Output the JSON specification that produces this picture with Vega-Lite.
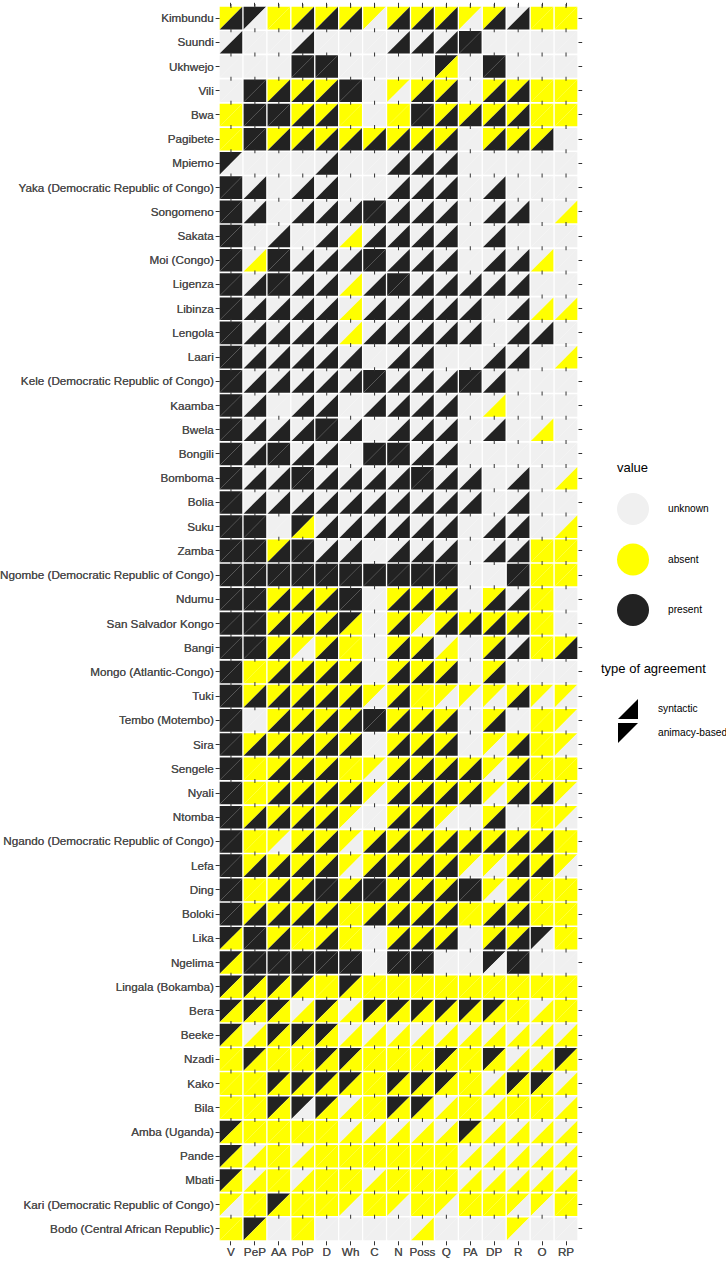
{
"$schema":"https://vega.github.io/schema/vega-lite/v6.json",
"width":359,"height":1235,
"autosize":{"type":"none"},
"padding":{"left":219,"top":6,"right":148,"bottom":20},
"background":"white",
"config":{"view":{"stroke":null},"font":"Liberation Sans",
"axis":{"labelFont":"Liberation Sans","labelFontSize":11.7,"labelColor":"#4d4d4d","tickColor":"#333333","tickSize":3.7,"labelPadding":2,"labelLimit":0,"domain":false,"grid":false,"title":null},
"legend":{"labelFont":"Liberation Sans","titleFont":"Liberation Sans","labelFontSize":10.2,"titleFontSize":13,"titleFontWeight":"normal","labelColor":"#000000","titleColor":"#000000","padding":0,"symbolOpacity":1,"labelLimit":0}},
"data":{"values":[
{"lang":"Kimbundu","feat":"V","syn":"present","ani":"absent"},
{"lang":"Kimbundu","feat":"PeP","syn":"unknown","ani":"present"},
{"lang":"Kimbundu","feat":"AA","syn":"absent","ani":"absent"},
{"lang":"Kimbundu","feat":"PoP","syn":"present","ani":"absent"},
{"lang":"Kimbundu","feat":"D","syn":"present","ani":"absent"},
{"lang":"Kimbundu","feat":"Wh","syn":"present","ani":"absent"},
{"lang":"Kimbundu","feat":"C","syn":"unknown","ani":"absent"},
{"lang":"Kimbundu","feat":"N","syn":"present","ani":"absent"},
{"lang":"Kimbundu","feat":"Poss","syn":"present","ani":"absent"},
{"lang":"Kimbundu","feat":"Q","syn":"present","ani":"absent"},
{"lang":"Kimbundu","feat":"PA","syn":"unknown","ani":"absent"},
{"lang":"Kimbundu","feat":"DP","syn":"present","ani":"absent"},
{"lang":"Kimbundu","feat":"R","syn":"present","ani":"unknown"},
{"lang":"Kimbundu","feat":"O","syn":"absent","ani":"absent"},
{"lang":"Kimbundu","feat":"RP","syn":"absent","ani":"absent"},
{"lang":"Suundi","feat":"V","syn":"present","ani":"unknown"},
{"lang":"Suundi","feat":"PeP","syn":"unknown","ani":"unknown"},
{"lang":"Suundi","feat":"AA","syn":"unknown","ani":"unknown"},
{"lang":"Suundi","feat":"PoP","syn":"present","ani":"unknown"},
{"lang":"Suundi","feat":"D","syn":"unknown","ani":"unknown"},
{"lang":"Suundi","feat":"Wh","syn":"unknown","ani":"unknown"},
{"lang":"Suundi","feat":"C","syn":"unknown","ani":"unknown"},
{"lang":"Suundi","feat":"N","syn":"present","ani":"unknown"},
{"lang":"Suundi","feat":"Poss","syn":"present","ani":"unknown"},
{"lang":"Suundi","feat":"Q","syn":"present","ani":"unknown"},
{"lang":"Suundi","feat":"PA","syn":"present","ani":"present"},
{"lang":"Suundi","feat":"DP","syn":"unknown","ani":"unknown"},
{"lang":"Suundi","feat":"R","syn":"unknown","ani":"unknown"},
{"lang":"Suundi","feat":"O","syn":"unknown","ani":"unknown"},
{"lang":"Suundi","feat":"RP","syn":"unknown","ani":"unknown"},
{"lang":"Ukhwejo","feat":"V","syn":"unknown","ani":"unknown"},
{"lang":"Ukhwejo","feat":"PeP","syn":"unknown","ani":"unknown"},
{"lang":"Ukhwejo","feat":"AA","syn":"unknown","ani":"unknown"},
{"lang":"Ukhwejo","feat":"PoP","syn":"present","ani":"present"},
{"lang":"Ukhwejo","feat":"D","syn":"present","ani":"present"},
{"lang":"Ukhwejo","feat":"Wh","syn":"unknown","ani":"unknown"},
{"lang":"Ukhwejo","feat":"C","syn":"unknown","ani":"unknown"},
{"lang":"Ukhwejo","feat":"N","syn":"unknown","ani":"unknown"},
{"lang":"Ukhwejo","feat":"Poss","syn":"unknown","ani":"unknown"},
{"lang":"Ukhwejo","feat":"Q","syn":"absent","ani":"present"},
{"lang":"Ukhwejo","feat":"PA","syn":"unknown","ani":"unknown"},
{"lang":"Ukhwejo","feat":"DP","syn":"present","ani":"present"},
{"lang":"Ukhwejo","feat":"R","syn":"unknown","ani":"unknown"},
{"lang":"Ukhwejo","feat":"O","syn":"unknown","ani":"unknown"},
{"lang":"Ukhwejo","feat":"RP","syn":"unknown","ani":"unknown"},
{"lang":"Vili","feat":"V","syn":"unknown","ani":"unknown"},
{"lang":"Vili","feat":"PeP","syn":"present","ani":"present"},
{"lang":"Vili","feat":"AA","syn":"present","ani":"absent"},
{"lang":"Vili","feat":"PoP","syn":"present","ani":"absent"},
{"lang":"Vili","feat":"D","syn":"present","ani":"absent"},
{"lang":"Vili","feat":"Wh","syn":"present","ani":"present"},
{"lang":"Vili","feat":"C","syn":"unknown","ani":"unknown"},
{"lang":"Vili","feat":"N","syn":"unknown","ani":"absent"},
{"lang":"Vili","feat":"Poss","syn":"present","ani":"absent"},
{"lang":"Vili","feat":"Q","syn":"present","ani":"absent"},
{"lang":"Vili","feat":"PA","syn":"unknown","ani":"unknown"},
{"lang":"Vili","feat":"DP","syn":"present","ani":"absent"},
{"lang":"Vili","feat":"R","syn":"present","ani":"absent"},
{"lang":"Vili","feat":"O","syn":"absent","ani":"absent"},
{"lang":"Vili","feat":"RP","syn":"absent","ani":"absent"},
{"lang":"Bwa","feat":"V","syn":"absent","ani":"absent"},
{"lang":"Bwa","feat":"PeP","syn":"present","ani":"present"},
{"lang":"Bwa","feat":"AA","syn":"present","ani":"present"},
{"lang":"Bwa","feat":"PoP","syn":"present","ani":"absent"},
{"lang":"Bwa","feat":"D","syn":"present","ani":"absent"},
{"lang":"Bwa","feat":"Wh","syn":"absent","ani":"absent"},
{"lang":"Bwa","feat":"C","syn":"unknown","ani":"unknown"},
{"lang":"Bwa","feat":"N","syn":"absent","ani":"absent"},
{"lang":"Bwa","feat":"Poss","syn":"present","ani":"present"},
{"lang":"Bwa","feat":"Q","syn":"present","ani":"absent"},
{"lang":"Bwa","feat":"PA","syn":"present","ani":"absent"},
{"lang":"Bwa","feat":"DP","syn":"present","ani":"absent"},
{"lang":"Bwa","feat":"R","syn":"present","ani":"absent"},
{"lang":"Bwa","feat":"O","syn":"absent","ani":"absent"},
{"lang":"Bwa","feat":"RP","syn":"absent","ani":"absent"},
{"lang":"Pagibete","feat":"V","syn":"absent","ani":"absent"},
{"lang":"Pagibete","feat":"PeP","syn":"present","ani":"present"},
{"lang":"Pagibete","feat":"AA","syn":"present","ani":"absent"},
{"lang":"Pagibete","feat":"PoP","syn":"present","ani":"absent"},
{"lang":"Pagibete","feat":"D","syn":"present","ani":"absent"},
{"lang":"Pagibete","feat":"Wh","syn":"present","ani":"absent"},
{"lang":"Pagibete","feat":"C","syn":"present","ani":"absent"},
{"lang":"Pagibete","feat":"N","syn":"present","ani":"absent"},
{"lang":"Pagibete","feat":"Poss","syn":"present","ani":"absent"},
{"lang":"Pagibete","feat":"Q","syn":"present","ani":"absent"},
{"lang":"Pagibete","feat":"PA","syn":"unknown","ani":"unknown"},
{"lang":"Pagibete","feat":"DP","syn":"present","ani":"absent"},
{"lang":"Pagibete","feat":"R","syn":"present","ani":"absent"},
{"lang":"Pagibete","feat":"O","syn":"present","ani":"absent"},
{"lang":"Pagibete","feat":"RP","syn":"unknown","ani":"unknown"},
{"lang":"Mpiemo","feat":"V","syn":"unknown","ani":"present"},
{"lang":"Mpiemo","feat":"PeP","syn":"unknown","ani":"unknown"},
{"lang":"Mpiemo","feat":"AA","syn":"unknown","ani":"unknown"},
{"lang":"Mpiemo","feat":"PoP","syn":"unknown","ani":"unknown"},
{"lang":"Mpiemo","feat":"D","syn":"present","ani":"unknown"},
{"lang":"Mpiemo","feat":"Wh","syn":"unknown","ani":"unknown"},
{"lang":"Mpiemo","feat":"C","syn":"unknown","ani":"unknown"},
{"lang":"Mpiemo","feat":"N","syn":"present","ani":"unknown"},
{"lang":"Mpiemo","feat":"Poss","syn":"present","ani":"unknown"},
{"lang":"Mpiemo","feat":"Q","syn":"present","ani":"unknown"},
{"lang":"Mpiemo","feat":"PA","syn":"unknown","ani":"unknown"},
{"lang":"Mpiemo","feat":"DP","syn":"unknown","ani":"unknown"},
{"lang":"Mpiemo","feat":"R","syn":"unknown","ani":"unknown"},
{"lang":"Mpiemo","feat":"O","syn":"unknown","ani":"unknown"},
{"lang":"Mpiemo","feat":"RP","syn":"unknown","ani":"unknown"},
{"lang":"Yaka (Democratic Republic of Congo)","feat":"V","syn":"present","ani":"present"},
{"lang":"Yaka (Democratic Republic of Congo)","feat":"PeP","syn":"present","ani":"unknown"},
{"lang":"Yaka (Democratic Republic of Congo)","feat":"AA","syn":"unknown","ani":"unknown"},
{"lang":"Yaka (Democratic Republic of Congo)","feat":"PoP","syn":"present","ani":"unknown"},
{"lang":"Yaka (Democratic Republic of Congo)","feat":"D","syn":"present","ani":"unknown"},
{"lang":"Yaka (Democratic Republic of Congo)","feat":"Wh","syn":"unknown","ani":"unknown"},
{"lang":"Yaka (Democratic Republic of Congo)","feat":"C","syn":"unknown","ani":"unknown"},
{"lang":"Yaka (Democratic Republic of Congo)","feat":"N","syn":"present","ani":"unknown"},
{"lang":"Yaka (Democratic Republic of Congo)","feat":"Poss","syn":"present","ani":"unknown"},
{"lang":"Yaka (Democratic Republic of Congo)","feat":"Q","syn":"present","ani":"unknown"},
{"lang":"Yaka (Democratic Republic of Congo)","feat":"PA","syn":"unknown","ani":"unknown"},
{"lang":"Yaka (Democratic Republic of Congo)","feat":"DP","syn":"present","ani":"unknown"},
{"lang":"Yaka (Democratic Republic of Congo)","feat":"R","syn":"unknown","ani":"unknown"},
{"lang":"Yaka (Democratic Republic of Congo)","feat":"O","syn":"unknown","ani":"unknown"},
{"lang":"Yaka (Democratic Republic of Congo)","feat":"RP","syn":"unknown","ani":"unknown"},
{"lang":"Songomeno","feat":"V","syn":"present","ani":"present"},
{"lang":"Songomeno","feat":"PeP","syn":"present","ani":"unknown"},
{"lang":"Songomeno","feat":"AA","syn":"unknown","ani":"unknown"},
{"lang":"Songomeno","feat":"PoP","syn":"present","ani":"unknown"},
{"lang":"Songomeno","feat":"D","syn":"present","ani":"unknown"},
{"lang":"Songomeno","feat":"Wh","syn":"present","ani":"unknown"},
{"lang":"Songomeno","feat":"C","syn":"present","ani":"present"},
{"lang":"Songomeno","feat":"N","syn":"present","ani":"unknown"},
{"lang":"Songomeno","feat":"Poss","syn":"present","ani":"unknown"},
{"lang":"Songomeno","feat":"Q","syn":"present","ani":"unknown"},
{"lang":"Songomeno","feat":"PA","syn":"unknown","ani":"unknown"},
{"lang":"Songomeno","feat":"DP","syn":"present","ani":"unknown"},
{"lang":"Songomeno","feat":"R","syn":"present","ani":"unknown"},
{"lang":"Songomeno","feat":"O","syn":"unknown","ani":"unknown"},
{"lang":"Songomeno","feat":"RP","syn":"absent","ani":"unknown"},
{"lang":"Sakata","feat":"V","syn":"present","ani":"present"},
{"lang":"Sakata","feat":"PeP","syn":"unknown","ani":"unknown"},
{"lang":"Sakata","feat":"AA","syn":"present","ani":"unknown"},
{"lang":"Sakata","feat":"PoP","syn":"unknown","ani":"unknown"},
{"lang":"Sakata","feat":"D","syn":"present","ani":"unknown"},
{"lang":"Sakata","feat":"Wh","syn":"absent","ani":"unknown"},
{"lang":"Sakata","feat":"C","syn":"present","ani":"unknown"},
{"lang":"Sakata","feat":"N","syn":"present","ani":"unknown"},
{"lang":"Sakata","feat":"Poss","syn":"present","ani":"unknown"},
{"lang":"Sakata","feat":"Q","syn":"present","ani":"unknown"},
{"lang":"Sakata","feat":"PA","syn":"unknown","ani":"unknown"},
{"lang":"Sakata","feat":"DP","syn":"present","ani":"unknown"},
{"lang":"Sakata","feat":"R","syn":"unknown","ani":"unknown"},
{"lang":"Sakata","feat":"O","syn":"unknown","ani":"unknown"},
{"lang":"Sakata","feat":"RP","syn":"unknown","ani":"unknown"},
{"lang":"Moi (Congo)","feat":"V","syn":"present","ani":"present"},
{"lang":"Moi (Congo)","feat":"PeP","syn":"absent","ani":"unknown"},
{"lang":"Moi (Congo)","feat":"AA","syn":"present","ani":"present"},
{"lang":"Moi (Congo)","feat":"PoP","syn":"present","ani":"unknown"},
{"lang":"Moi (Congo)","feat":"D","syn":"present","ani":"unknown"},
{"lang":"Moi (Congo)","feat":"Wh","syn":"present","ani":"unknown"},
{"lang":"Moi (Congo)","feat":"C","syn":"present","ani":"present"},
{"lang":"Moi (Congo)","feat":"N","syn":"present","ani":"unknown"},
{"lang":"Moi (Congo)","feat":"Poss","syn":"present","ani":"unknown"},
{"lang":"Moi (Congo)","feat":"Q","syn":"present","ani":"unknown"},
{"lang":"Moi (Congo)","feat":"PA","syn":"unknown","ani":"unknown"},
{"lang":"Moi (Congo)","feat":"DP","syn":"present","ani":"unknown"},
{"lang":"Moi (Congo)","feat":"R","syn":"present","ani":"unknown"},
{"lang":"Moi (Congo)","feat":"O","syn":"absent","ani":"unknown"},
{"lang":"Moi (Congo)","feat":"RP","syn":"unknown","ani":"unknown"},
{"lang":"Ligenza","feat":"V","syn":"present","ani":"present"},
{"lang":"Ligenza","feat":"PeP","syn":"present","ani":"unknown"},
{"lang":"Ligenza","feat":"AA","syn":"present","ani":"present"},
{"lang":"Ligenza","feat":"PoP","syn":"present","ani":"unknown"},
{"lang":"Ligenza","feat":"D","syn":"present","ani":"unknown"},
{"lang":"Ligenza","feat":"Wh","syn":"absent","ani":"unknown"},
{"lang":"Ligenza","feat":"C","syn":"present","ani":"unknown"},
{"lang":"Ligenza","feat":"N","syn":"present","ani":"present"},
{"lang":"Ligenza","feat":"Poss","syn":"present","ani":"unknown"},
{"lang":"Ligenza","feat":"Q","syn":"present","ani":"unknown"},
{"lang":"Ligenza","feat":"PA","syn":"present","ani":"unknown"},
{"lang":"Ligenza","feat":"DP","syn":"present","ani":"unknown"},
{"lang":"Ligenza","feat":"R","syn":"present","ani":"unknown"},
{"lang":"Ligenza","feat":"O","syn":"unknown","ani":"unknown"},
{"lang":"Ligenza","feat":"RP","syn":"unknown","ani":"unknown"},
{"lang":"Libinza","feat":"V","syn":"present","ani":"present"},
{"lang":"Libinza","feat":"PeP","syn":"present","ani":"unknown"},
{"lang":"Libinza","feat":"AA","syn":"present","ani":"unknown"},
{"lang":"Libinza","feat":"PoP","syn":"present","ani":"unknown"},
{"lang":"Libinza","feat":"D","syn":"present","ani":"unknown"},
{"lang":"Libinza","feat":"Wh","syn":"absent","ani":"unknown"},
{"lang":"Libinza","feat":"C","syn":"present","ani":"unknown"},
{"lang":"Libinza","feat":"N","syn":"present","ani":"unknown"},
{"lang":"Libinza","feat":"Poss","syn":"present","ani":"unknown"},
{"lang":"Libinza","feat":"Q","syn":"present","ani":"unknown"},
{"lang":"Libinza","feat":"PA","syn":"present","ani":"unknown"},
{"lang":"Libinza","feat":"DP","syn":"unknown","ani":"unknown"},
{"lang":"Libinza","feat":"R","syn":"present","ani":"unknown"},
{"lang":"Libinza","feat":"O","syn":"absent","ani":"unknown"},
{"lang":"Libinza","feat":"RP","syn":"absent","ani":"unknown"},
{"lang":"Lengola","feat":"V","syn":"present","ani":"present"},
{"lang":"Lengola","feat":"PeP","syn":"present","ani":"unknown"},
{"lang":"Lengola","feat":"AA","syn":"present","ani":"unknown"},
{"lang":"Lengola","feat":"PoP","syn":"present","ani":"unknown"},
{"lang":"Lengola","feat":"D","syn":"present","ani":"unknown"},
{"lang":"Lengola","feat":"Wh","syn":"absent","ani":"unknown"},
{"lang":"Lengola","feat":"C","syn":"present","ani":"unknown"},
{"lang":"Lengola","feat":"N","syn":"present","ani":"unknown"},
{"lang":"Lengola","feat":"Poss","syn":"present","ani":"unknown"},
{"lang":"Lengola","feat":"Q","syn":"present","ani":"unknown"},
{"lang":"Lengola","feat":"PA","syn":"present","ani":"unknown"},
{"lang":"Lengola","feat":"DP","syn":"unknown","ani":"unknown"},
{"lang":"Lengola","feat":"R","syn":"present","ani":"unknown"},
{"lang":"Lengola","feat":"O","syn":"present","ani":"unknown"},
{"lang":"Lengola","feat":"RP","syn":"unknown","ani":"unknown"},
{"lang":"Laari","feat":"V","syn":"present","ani":"present"},
{"lang":"Laari","feat":"PeP","syn":"present","ani":"unknown"},
{"lang":"Laari","feat":"AA","syn":"present","ani":"unknown"},
{"lang":"Laari","feat":"PoP","syn":"present","ani":"unknown"},
{"lang":"Laari","feat":"D","syn":"present","ani":"unknown"},
{"lang":"Laari","feat":"Wh","syn":"present","ani":"unknown"},
{"lang":"Laari","feat":"C","syn":"unknown","ani":"unknown"},
{"lang":"Laari","feat":"N","syn":"present","ani":"unknown"},
{"lang":"Laari","feat":"Poss","syn":"present","ani":"unknown"},
{"lang":"Laari","feat":"Q","syn":"unknown","ani":"unknown"},
{"lang":"Laari","feat":"PA","syn":"unknown","ani":"unknown"},
{"lang":"Laari","feat":"DP","syn":"present","ani":"unknown"},
{"lang":"Laari","feat":"R","syn":"present","ani":"unknown"},
{"lang":"Laari","feat":"O","syn":"unknown","ani":"unknown"},
{"lang":"Laari","feat":"RP","syn":"absent","ani":"unknown"},
{"lang":"Kele (Democratic Republic of Congo)","feat":"V","syn":"present","ani":"present"},
{"lang":"Kele (Democratic Republic of Congo)","feat":"PeP","syn":"present","ani":"unknown"},
{"lang":"Kele (Democratic Republic of Congo)","feat":"AA","syn":"present","ani":"unknown"},
{"lang":"Kele (Democratic Republic of Congo)","feat":"PoP","syn":"present","ani":"unknown"},
{"lang":"Kele (Democratic Republic of Congo)","feat":"D","syn":"present","ani":"unknown"},
{"lang":"Kele (Democratic Republic of Congo)","feat":"Wh","syn":"present","ani":"unknown"},
{"lang":"Kele (Democratic Republic of Congo)","feat":"C","syn":"present","ani":"present"},
{"lang":"Kele (Democratic Republic of Congo)","feat":"N","syn":"present","ani":"unknown"},
{"lang":"Kele (Democratic Republic of Congo)","feat":"Poss","syn":"present","ani":"unknown"},
{"lang":"Kele (Democratic Republic of Congo)","feat":"Q","syn":"present","ani":"unknown"},
{"lang":"Kele (Democratic Republic of Congo)","feat":"PA","syn":"present","ani":"present"},
{"lang":"Kele (Democratic Republic of Congo)","feat":"DP","syn":"present","ani":"unknown"},
{"lang":"Kele (Democratic Republic of Congo)","feat":"R","syn":"unknown","ani":"unknown"},
{"lang":"Kele (Democratic Republic of Congo)","feat":"O","syn":"unknown","ani":"unknown"},
{"lang":"Kele (Democratic Republic of Congo)","feat":"RP","syn":"unknown","ani":"unknown"},
{"lang":"Kaamba","feat":"V","syn":"present","ani":"present"},
{"lang":"Kaamba","feat":"PeP","syn":"present","ani":"unknown"},
{"lang":"Kaamba","feat":"AA","syn":"unknown","ani":"unknown"},
{"lang":"Kaamba","feat":"PoP","syn":"present","ani":"unknown"},
{"lang":"Kaamba","feat":"D","syn":"present","ani":"unknown"},
{"lang":"Kaamba","feat":"Wh","syn":"unknown","ani":"unknown"},
{"lang":"Kaamba","feat":"C","syn":"present","ani":"unknown"},
{"lang":"Kaamba","feat":"N","syn":"present","ani":"unknown"},
{"lang":"Kaamba","feat":"Poss","syn":"present","ani":"unknown"},
{"lang":"Kaamba","feat":"Q","syn":"present","ani":"unknown"},
{"lang":"Kaamba","feat":"PA","syn":"unknown","ani":"unknown"},
{"lang":"Kaamba","feat":"DP","syn":"absent","ani":"unknown"},
{"lang":"Kaamba","feat":"R","syn":"unknown","ani":"unknown"},
{"lang":"Kaamba","feat":"O","syn":"unknown","ani":"unknown"},
{"lang":"Kaamba","feat":"RP","syn":"unknown","ani":"unknown"},
{"lang":"Bwela","feat":"V","syn":"present","ani":"present"},
{"lang":"Bwela","feat":"PeP","syn":"present","ani":"unknown"},
{"lang":"Bwela","feat":"AA","syn":"present","ani":"unknown"},
{"lang":"Bwela","feat":"PoP","syn":"present","ani":"unknown"},
{"lang":"Bwela","feat":"D","syn":"present","ani":"present"},
{"lang":"Bwela","feat":"Wh","syn":"present","ani":"unknown"},
{"lang":"Bwela","feat":"C","syn":"unknown","ani":"unknown"},
{"lang":"Bwela","feat":"N","syn":"present","ani":"unknown"},
{"lang":"Bwela","feat":"Poss","syn":"present","ani":"unknown"},
{"lang":"Bwela","feat":"Q","syn":"present","ani":"unknown"},
{"lang":"Bwela","feat":"PA","syn":"unknown","ani":"unknown"},
{"lang":"Bwela","feat":"DP","syn":"present","ani":"unknown"},
{"lang":"Bwela","feat":"R","syn":"unknown","ani":"unknown"},
{"lang":"Bwela","feat":"O","syn":"absent","ani":"unknown"},
{"lang":"Bwela","feat":"RP","syn":"unknown","ani":"unknown"},
{"lang":"Bongili","feat":"V","syn":"present","ani":"present"},
{"lang":"Bongili","feat":"PeP","syn":"present","ani":"unknown"},
{"lang":"Bongili","feat":"AA","syn":"present","ani":"present"},
{"lang":"Bongili","feat":"PoP","syn":"present","ani":"unknown"},
{"lang":"Bongili","feat":"D","syn":"present","ani":"unknown"},
{"lang":"Bongili","feat":"Wh","syn":"unknown","ani":"unknown"},
{"lang":"Bongili","feat":"C","syn":"present","ani":"present"},
{"lang":"Bongili","feat":"N","syn":"present","ani":"present"},
{"lang":"Bongili","feat":"Poss","syn":"present","ani":"unknown"},
{"lang":"Bongili","feat":"Q","syn":"present","ani":"unknown"},
{"lang":"Bongili","feat":"PA","syn":"unknown","ani":"unknown"},
{"lang":"Bongili","feat":"DP","syn":"unknown","ani":"unknown"},
{"lang":"Bongili","feat":"R","syn":"unknown","ani":"unknown"},
{"lang":"Bongili","feat":"O","syn":"unknown","ani":"unknown"},
{"lang":"Bongili","feat":"RP","syn":"unknown","ani":"unknown"},
{"lang":"Bomboma","feat":"V","syn":"present","ani":"present"},
{"lang":"Bomboma","feat":"PeP","syn":"present","ani":"unknown"},
{"lang":"Bomboma","feat":"AA","syn":"present","ani":"unknown"},
{"lang":"Bomboma","feat":"PoP","syn":"present","ani":"present"},
{"lang":"Bomboma","feat":"D","syn":"present","ani":"unknown"},
{"lang":"Bomboma","feat":"Wh","syn":"present","ani":"unknown"},
{"lang":"Bomboma","feat":"C","syn":"present","ani":"unknown"},
{"lang":"Bomboma","feat":"N","syn":"present","ani":"unknown"},
{"lang":"Bomboma","feat":"Poss","syn":"present","ani":"present"},
{"lang":"Bomboma","feat":"Q","syn":"present","ani":"unknown"},
{"lang":"Bomboma","feat":"PA","syn":"present","ani":"unknown"},
{"lang":"Bomboma","feat":"DP","syn":"unknown","ani":"unknown"},
{"lang":"Bomboma","feat":"R","syn":"present","ani":"unknown"},
{"lang":"Bomboma","feat":"O","syn":"unknown","ani":"unknown"},
{"lang":"Bomboma","feat":"RP","syn":"absent","ani":"unknown"},
{"lang":"Bolia","feat":"V","syn":"present","ani":"present"},
{"lang":"Bolia","feat":"PeP","syn":"present","ani":"unknown"},
{"lang":"Bolia","feat":"AA","syn":"present","ani":"unknown"},
{"lang":"Bolia","feat":"PoP","syn":"present","ani":"unknown"},
{"lang":"Bolia","feat":"D","syn":"present","ani":"unknown"},
{"lang":"Bolia","feat":"Wh","syn":"present","ani":"unknown"},
{"lang":"Bolia","feat":"C","syn":"present","ani":"unknown"},
{"lang":"Bolia","feat":"N","syn":"present","ani":"unknown"},
{"lang":"Bolia","feat":"Poss","syn":"present","ani":"unknown"},
{"lang":"Bolia","feat":"Q","syn":"present","ani":"unknown"},
{"lang":"Bolia","feat":"PA","syn":"present","ani":"unknown"},
{"lang":"Bolia","feat":"DP","syn":"unknown","ani":"unknown"},
{"lang":"Bolia","feat":"R","syn":"present","ani":"unknown"},
{"lang":"Bolia","feat":"O","syn":"unknown","ani":"unknown"},
{"lang":"Bolia","feat":"RP","syn":"unknown","ani":"unknown"},
{"lang":"Suku","feat":"V","syn":"present","ani":"present"},
{"lang":"Suku","feat":"PeP","syn":"present","ani":"present"},
{"lang":"Suku","feat":"AA","syn":"unknown","ani":"unknown"},
{"lang":"Suku","feat":"PoP","syn":"absent","ani":"present"},
{"lang":"Suku","feat":"D","syn":"present","ani":"unknown"},
{"lang":"Suku","feat":"Wh","syn":"present","ani":"unknown"},
{"lang":"Suku","feat":"C","syn":"present","ani":"unknown"},
{"lang":"Suku","feat":"N","syn":"present","ani":"unknown"},
{"lang":"Suku","feat":"Poss","syn":"present","ani":"unknown"},
{"lang":"Suku","feat":"Q","syn":"present","ani":"unknown"},
{"lang":"Suku","feat":"PA","syn":"unknown","ani":"unknown"},
{"lang":"Suku","feat":"DP","syn":"present","ani":"unknown"},
{"lang":"Suku","feat":"R","syn":"present","ani":"unknown"},
{"lang":"Suku","feat":"O","syn":"unknown","ani":"unknown"},
{"lang":"Suku","feat":"RP","syn":"absent","ani":"unknown"},
{"lang":"Zamba","feat":"V","syn":"present","ani":"present"},
{"lang":"Zamba","feat":"PeP","syn":"present","ani":"present"},
{"lang":"Zamba","feat":"AA","syn":"present","ani":"absent"},
{"lang":"Zamba","feat":"PoP","syn":"present","ani":"present"},
{"lang":"Zamba","feat":"D","syn":"present","ani":"unknown"},
{"lang":"Zamba","feat":"Wh","syn":"present","ani":"unknown"},
{"lang":"Zamba","feat":"C","syn":"unknown","ani":"unknown"},
{"lang":"Zamba","feat":"N","syn":"present","ani":"unknown"},
{"lang":"Zamba","feat":"Poss","syn":"present","ani":"unknown"},
{"lang":"Zamba","feat":"Q","syn":"present","ani":"unknown"},
{"lang":"Zamba","feat":"PA","syn":"unknown","ani":"unknown"},
{"lang":"Zamba","feat":"DP","syn":"present","ani":"unknown"},
{"lang":"Zamba","feat":"R","syn":"present","ani":"unknown"},
{"lang":"Zamba","feat":"O","syn":"absent","ani":"absent"},
{"lang":"Zamba","feat":"RP","syn":"absent","ani":"absent"},
{"lang":"Ngombe (Democratic Republic of Congo)","feat":"V","syn":"present","ani":"present"},
{"lang":"Ngombe (Democratic Republic of Congo)","feat":"PeP","syn":"present","ani":"present"},
{"lang":"Ngombe (Democratic Republic of Congo)","feat":"AA","syn":"present","ani":"present"},
{"lang":"Ngombe (Democratic Republic of Congo)","feat":"PoP","syn":"present","ani":"present"},
{"lang":"Ngombe (Democratic Republic of Congo)","feat":"D","syn":"present","ani":"present"},
{"lang":"Ngombe (Democratic Republic of Congo)","feat":"Wh","syn":"present","ani":"present"},
{"lang":"Ngombe (Democratic Republic of Congo)","feat":"C","syn":"present","ani":"present"},
{"lang":"Ngombe (Democratic Republic of Congo)","feat":"N","syn":"present","ani":"present"},
{"lang":"Ngombe (Democratic Republic of Congo)","feat":"Poss","syn":"present","ani":"present"},
{"lang":"Ngombe (Democratic Republic of Congo)","feat":"Q","syn":"present","ani":"present"},
{"lang":"Ngombe (Democratic Republic of Congo)","feat":"PA","syn":"unknown","ani":"unknown"},
{"lang":"Ngombe (Democratic Republic of Congo)","feat":"DP","syn":"unknown","ani":"unknown"},
{"lang":"Ngombe (Democratic Republic of Congo)","feat":"R","syn":"present","ani":"present"},
{"lang":"Ngombe (Democratic Republic of Congo)","feat":"O","syn":"absent","ani":"absent"},
{"lang":"Ngombe (Democratic Republic of Congo)","feat":"RP","syn":"absent","ani":"absent"},
{"lang":"Ndumu","feat":"V","syn":"present","ani":"present"},
{"lang":"Ndumu","feat":"PeP","syn":"present","ani":"present"},
{"lang":"Ndumu","feat":"AA","syn":"present","ani":"absent"},
{"lang":"Ndumu","feat":"PoP","syn":"present","ani":"absent"},
{"lang":"Ndumu","feat":"D","syn":"present","ani":"absent"},
{"lang":"Ndumu","feat":"Wh","syn":"present","ani":"present"},
{"lang":"Ndumu","feat":"C","syn":"unknown","ani":"unknown"},
{"lang":"Ndumu","feat":"N","syn":"present","ani":"absent"},
{"lang":"Ndumu","feat":"Poss","syn":"present","ani":"absent"},
{"lang":"Ndumu","feat":"Q","syn":"present","ani":"absent"},
{"lang":"Ndumu","feat":"PA","syn":"unknown","ani":"unknown"},
{"lang":"Ndumu","feat":"DP","syn":"present","ani":"absent"},
{"lang":"Ndumu","feat":"R","syn":"present","ani":"unknown"},
{"lang":"Ndumu","feat":"O","syn":"absent","ani":"absent"},
{"lang":"Ndumu","feat":"RP","syn":"unknown","ani":"unknown"},
{"lang":"San Salvador Kongo","feat":"V","syn":"present","ani":"present"},
{"lang":"San Salvador Kongo","feat":"PeP","syn":"present","ani":"present"},
{"lang":"San Salvador Kongo","feat":"AA","syn":"present","ani":"absent"},
{"lang":"San Salvador Kongo","feat":"PoP","syn":"present","ani":"absent"},
{"lang":"San Salvador Kongo","feat":"D","syn":"present","ani":"absent"},
{"lang":"San Salvador Kongo","feat":"Wh","syn":"absent","ani":"present"},
{"lang":"San Salvador Kongo","feat":"C","syn":"unknown","ani":"unknown"},
{"lang":"San Salvador Kongo","feat":"N","syn":"present","ani":"absent"},
{"lang":"San Salvador Kongo","feat":"Poss","syn":"unknown","ani":"absent"},
{"lang":"San Salvador Kongo","feat":"Q","syn":"present","ani":"absent"},
{"lang":"San Salvador Kongo","feat":"PA","syn":"present","ani":"absent"},
{"lang":"San Salvador Kongo","feat":"DP","syn":"present","ani":"absent"},
{"lang":"San Salvador Kongo","feat":"R","syn":"present","ani":"absent"},
{"lang":"San Salvador Kongo","feat":"O","syn":"absent","ani":"absent"},
{"lang":"San Salvador Kongo","feat":"RP","syn":"unknown","ani":"unknown"},
{"lang":"Bangi","feat":"V","syn":"present","ani":"present"},
{"lang":"Bangi","feat":"PeP","syn":"present","ani":"present"},
{"lang":"Bangi","feat":"AA","syn":"present","ani":"absent"},
{"lang":"Bangi","feat":"PoP","syn":"unknown","ani":"absent"},
{"lang":"Bangi","feat":"D","syn":"present","ani":"absent"},
{"lang":"Bangi","feat":"Wh","syn":"absent","ani":"absent"},
{"lang":"Bangi","feat":"C","syn":"unknown","ani":"unknown"},
{"lang":"Bangi","feat":"N","syn":"present","ani":"absent"},
{"lang":"Bangi","feat":"Poss","syn":"present","ani":"absent"},
{"lang":"Bangi","feat":"Q","syn":"absent","ani":"unknown"},
{"lang":"Bangi","feat":"PA","syn":"unknown","ani":"unknown"},
{"lang":"Bangi","feat":"DP","syn":"present","ani":"absent"},
{"lang":"Bangi","feat":"R","syn":"present","ani":"unknown"},
{"lang":"Bangi","feat":"O","syn":"absent","ani":"absent"},
{"lang":"Bangi","feat":"RP","syn":"present","ani":"absent"},
{"lang":"Mongo (Atlantic-Congo)","feat":"V","syn":"present","ani":"present"},
{"lang":"Mongo (Atlantic-Congo)","feat":"PeP","syn":"absent","ani":"absent"},
{"lang":"Mongo (Atlantic-Congo)","feat":"AA","syn":"present","ani":"absent"},
{"lang":"Mongo (Atlantic-Congo)","feat":"PoP","syn":"present","ani":"absent"},
{"lang":"Mongo (Atlantic-Congo)","feat":"D","syn":"present","ani":"absent"},
{"lang":"Mongo (Atlantic-Congo)","feat":"Wh","syn":"present","ani":"absent"},
{"lang":"Mongo (Atlantic-Congo)","feat":"C","syn":"unknown","ani":"unknown"},
{"lang":"Mongo (Atlantic-Congo)","feat":"N","syn":"present","ani":"absent"},
{"lang":"Mongo (Atlantic-Congo)","feat":"Poss","syn":"present","ani":"absent"},
{"lang":"Mongo (Atlantic-Congo)","feat":"Q","syn":"present","ani":"absent"},
{"lang":"Mongo (Atlantic-Congo)","feat":"PA","syn":"unknown","ani":"unknown"},
{"lang":"Mongo (Atlantic-Congo)","feat":"DP","syn":"present","ani":"absent"},
{"lang":"Mongo (Atlantic-Congo)","feat":"R","syn":"unknown","ani":"unknown"},
{"lang":"Mongo (Atlantic-Congo)","feat":"O","syn":"unknown","ani":"unknown"},
{"lang":"Mongo (Atlantic-Congo)","feat":"RP","syn":"unknown","ani":"unknown"},
{"lang":"Tuki","feat":"V","syn":"present","ani":"present"},
{"lang":"Tuki","feat":"PeP","syn":"present","ani":"absent"},
{"lang":"Tuki","feat":"AA","syn":"present","ani":"absent"},
{"lang":"Tuki","feat":"PoP","syn":"present","ani":"absent"},
{"lang":"Tuki","feat":"D","syn":"present","ani":"absent"},
{"lang":"Tuki","feat":"Wh","syn":"present","ani":"absent"},
{"lang":"Tuki","feat":"C","syn":"unknown","ani":"absent"},
{"lang":"Tuki","feat":"N","syn":"present","ani":"absent"},
{"lang":"Tuki","feat":"Poss","syn":"absent","ani":"absent"},
{"lang":"Tuki","feat":"Q","syn":"unknown","ani":"absent"},
{"lang":"Tuki","feat":"PA","syn":"unknown","ani":"absent"},
{"lang":"Tuki","feat":"DP","syn":"unknown","ani":"absent"},
{"lang":"Tuki","feat":"R","syn":"present","ani":"absent"},
{"lang":"Tuki","feat":"O","syn":"unknown","ani":"absent"},
{"lang":"Tuki","feat":"RP","syn":"unknown","ani":"absent"},
{"lang":"Tembo (Motembo)","feat":"V","syn":"present","ani":"present"},
{"lang":"Tembo (Motembo)","feat":"PeP","syn":"unknown","ani":"unknown"},
{"lang":"Tembo (Motembo)","feat":"AA","syn":"present","ani":"absent"},
{"lang":"Tembo (Motembo)","feat":"PoP","syn":"present","ani":"absent"},
{"lang":"Tembo (Motembo)","feat":"D","syn":"present","ani":"absent"},
{"lang":"Tembo (Motembo)","feat":"Wh","syn":"present","ani":"absent"},
{"lang":"Tembo (Motembo)","feat":"C","syn":"present","ani":"present"},
{"lang":"Tembo (Motembo)","feat":"N","syn":"present","ani":"absent"},
{"lang":"Tembo (Motembo)","feat":"Poss","syn":"present","ani":"absent"},
{"lang":"Tembo (Motembo)","feat":"Q","syn":"present","ani":"absent"},
{"lang":"Tembo (Motembo)","feat":"PA","syn":"unknown","ani":"unknown"},
{"lang":"Tembo (Motembo)","feat":"DP","syn":"present","ani":"absent"},
{"lang":"Tembo (Motembo)","feat":"R","syn":"unknown","ani":"unknown"},
{"lang":"Tembo (Motembo)","feat":"O","syn":"absent","ani":"absent"},
{"lang":"Tembo (Motembo)","feat":"RP","syn":"unknown","ani":"absent"},
{"lang":"Sira","feat":"V","syn":"present","ani":"present"},
{"lang":"Sira","feat":"PeP","syn":"present","ani":"absent"},
{"lang":"Sira","feat":"AA","syn":"present","ani":"absent"},
{"lang":"Sira","feat":"PoP","syn":"present","ani":"absent"},
{"lang":"Sira","feat":"D","syn":"present","ani":"absent"},
{"lang":"Sira","feat":"Wh","syn":"present","ani":"absent"},
{"lang":"Sira","feat":"C","syn":"unknown","ani":"unknown"},
{"lang":"Sira","feat":"N","syn":"present","ani":"absent"},
{"lang":"Sira","feat":"Poss","syn":"present","ani":"absent"},
{"lang":"Sira","feat":"Q","syn":"present","ani":"absent"},
{"lang":"Sira","feat":"PA","syn":"unknown","ani":"unknown"},
{"lang":"Sira","feat":"DP","syn":"unknown","ani":"absent"},
{"lang":"Sira","feat":"R","syn":"present","ani":"absent"},
{"lang":"Sira","feat":"O","syn":"absent","ani":"absent"},
{"lang":"Sira","feat":"RP","syn":"unknown","ani":"absent"},
{"lang":"Sengele","feat":"V","syn":"present","ani":"present"},
{"lang":"Sengele","feat":"PeP","syn":"absent","ani":"absent"},
{"lang":"Sengele","feat":"AA","syn":"present","ani":"absent"},
{"lang":"Sengele","feat":"PoP","syn":"present","ani":"absent"},
{"lang":"Sengele","feat":"D","syn":"present","ani":"absent"},
{"lang":"Sengele","feat":"Wh","syn":"absent","ani":"absent"},
{"lang":"Sengele","feat":"C","syn":"unknown","ani":"absent"},
{"lang":"Sengele","feat":"N","syn":"present","ani":"absent"},
{"lang":"Sengele","feat":"Poss","syn":"present","ani":"absent"},
{"lang":"Sengele","feat":"Q","syn":"present","ani":"absent"},
{"lang":"Sengele","feat":"PA","syn":"present","ani":"absent"},
{"lang":"Sengele","feat":"DP","syn":"unknown","ani":"absent"},
{"lang":"Sengele","feat":"R","syn":"present","ani":"absent"},
{"lang":"Sengele","feat":"O","syn":"absent","ani":"absent"},
{"lang":"Sengele","feat":"RP","syn":"absent","ani":"absent"},
{"lang":"Nyali","feat":"V","syn":"present","ani":"present"},
{"lang":"Nyali","feat":"PeP","syn":"absent","ani":"absent"},
{"lang":"Nyali","feat":"AA","syn":"present","ani":"absent"},
{"lang":"Nyali","feat":"PoP","syn":"present","ani":"absent"},
{"lang":"Nyali","feat":"D","syn":"present","ani":"absent"},
{"lang":"Nyali","feat":"Wh","syn":"present","ani":"absent"},
{"lang":"Nyali","feat":"C","syn":"unknown","ani":"absent"},
{"lang":"Nyali","feat":"N","syn":"present","ani":"absent"},
{"lang":"Nyali","feat":"Poss","syn":"present","ani":"absent"},
{"lang":"Nyali","feat":"Q","syn":"present","ani":"absent"},
{"lang":"Nyali","feat":"PA","syn":"present","ani":"absent"},
{"lang":"Nyali","feat":"DP","syn":"unknown","ani":"absent"},
{"lang":"Nyali","feat":"R","syn":"present","ani":"absent"},
{"lang":"Nyali","feat":"O","syn":"present","ani":"absent"},
{"lang":"Nyali","feat":"RP","syn":"unknown","ani":"absent"},
{"lang":"Ntomba","feat":"V","syn":"present","ani":"present"},
{"lang":"Ntomba","feat":"PeP","syn":"present","ani":"absent"},
{"lang":"Ntomba","feat":"AA","syn":"present","ani":"absent"},
{"lang":"Ntomba","feat":"PoP","syn":"present","ani":"absent"},
{"lang":"Ntomba","feat":"D","syn":"present","ani":"absent"},
{"lang":"Ntomba","feat":"Wh","syn":"unknown","ani":"absent"},
{"lang":"Ntomba","feat":"C","syn":"unknown","ani":"unknown"},
{"lang":"Ntomba","feat":"N","syn":"present","ani":"absent"},
{"lang":"Ntomba","feat":"Poss","syn":"present","ani":"absent"},
{"lang":"Ntomba","feat":"Q","syn":"unknown","ani":"absent"},
{"lang":"Ntomba","feat":"PA","syn":"unknown","ani":"unknown"},
{"lang":"Ntomba","feat":"DP","syn":"present","ani":"absent"},
{"lang":"Ntomba","feat":"R","syn":"unknown","ani":"unknown"},
{"lang":"Ntomba","feat":"O","syn":"absent","ani":"absent"},
{"lang":"Ntomba","feat":"RP","syn":"unknown","ani":"absent"},
{"lang":"Ngando (Democratic Republic of Congo)","feat":"V","syn":"present","ani":"present"},
{"lang":"Ngando (Democratic Republic of Congo)","feat":"PeP","syn":"absent","ani":"absent"},
{"lang":"Ngando (Democratic Republic of Congo)","feat":"AA","syn":"unknown","ani":"absent"},
{"lang":"Ngando (Democratic Republic of Congo)","feat":"PoP","syn":"present","ani":"absent"},
{"lang":"Ngando (Democratic Republic of Congo)","feat":"D","syn":"present","ani":"absent"},
{"lang":"Ngando (Democratic Republic of Congo)","feat":"Wh","syn":"unknown","ani":"absent"},
{"lang":"Ngando (Democratic Republic of Congo)","feat":"C","syn":"present","ani":"absent"},
{"lang":"Ngando (Democratic Republic of Congo)","feat":"N","syn":"present","ani":"absent"},
{"lang":"Ngando (Democratic Republic of Congo)","feat":"Poss","syn":"present","ani":"absent"},
{"lang":"Ngando (Democratic Republic of Congo)","feat":"Q","syn":"present","ani":"absent"},
{"lang":"Ngando (Democratic Republic of Congo)","feat":"PA","syn":"present","ani":"absent"},
{"lang":"Ngando (Democratic Republic of Congo)","feat":"DP","syn":"present","ani":"absent"},
{"lang":"Ngando (Democratic Republic of Congo)","feat":"R","syn":"present","ani":"absent"},
{"lang":"Ngando (Democratic Republic of Congo)","feat":"O","syn":"present","ani":"absent"},
{"lang":"Ngando (Democratic Republic of Congo)","feat":"RP","syn":"absent","ani":"absent"},
{"lang":"Lefa","feat":"V","syn":"present","ani":"present"},
{"lang":"Lefa","feat":"PeP","syn":"present","ani":"absent"},
{"lang":"Lefa","feat":"AA","syn":"present","ani":"absent"},
{"lang":"Lefa","feat":"PoP","syn":"present","ani":"absent"},
{"lang":"Lefa","feat":"D","syn":"present","ani":"absent"},
{"lang":"Lefa","feat":"Wh","syn":"unknown","ani":"absent"},
{"lang":"Lefa","feat":"C","syn":"present","ani":"absent"},
{"lang":"Lefa","feat":"N","syn":"present","ani":"absent"},
{"lang":"Lefa","feat":"Poss","syn":"present","ani":"absent"},
{"lang":"Lefa","feat":"Q","syn":"present","ani":"absent"},
{"lang":"Lefa","feat":"PA","syn":"unknown","ani":"absent"},
{"lang":"Lefa","feat":"DP","syn":"unknown","ani":"absent"},
{"lang":"Lefa","feat":"R","syn":"present","ani":"absent"},
{"lang":"Lefa","feat":"O","syn":"present","ani":"absent"},
{"lang":"Lefa","feat":"RP","syn":"unknown","ani":"absent"},
{"lang":"Ding","feat":"V","syn":"present","ani":"present"},
{"lang":"Ding","feat":"PeP","syn":"absent","ani":"absent"},
{"lang":"Ding","feat":"AA","syn":"present","ani":"absent"},
{"lang":"Ding","feat":"PoP","syn":"present","ani":"absent"},
{"lang":"Ding","feat":"D","syn":"present","ani":"present"},
{"lang":"Ding","feat":"Wh","syn":"present","ani":"absent"},
{"lang":"Ding","feat":"C","syn":"present","ani":"present"},
{"lang":"Ding","feat":"N","syn":"present","ani":"absent"},
{"lang":"Ding","feat":"Poss","syn":"present","ani":"absent"},
{"lang":"Ding","feat":"Q","syn":"present","ani":"absent"},
{"lang":"Ding","feat":"PA","syn":"present","ani":"present"},
{"lang":"Ding","feat":"DP","syn":"unknown","ani":"absent"},
{"lang":"Ding","feat":"R","syn":"present","ani":"absent"},
{"lang":"Ding","feat":"O","syn":"absent","ani":"absent"},
{"lang":"Ding","feat":"RP","syn":"absent","ani":"absent"},
{"lang":"Boloki","feat":"V","syn":"present","ani":"present"},
{"lang":"Boloki","feat":"PeP","syn":"present","ani":"absent"},
{"lang":"Boloki","feat":"AA","syn":"present","ani":"absent"},
{"lang":"Boloki","feat":"PoP","syn":"present","ani":"absent"},
{"lang":"Boloki","feat":"D","syn":"present","ani":"absent"},
{"lang":"Boloki","feat":"Wh","syn":"absent","ani":"absent"},
{"lang":"Boloki","feat":"C","syn":"present","ani":"absent"},
{"lang":"Boloki","feat":"N","syn":"present","ani":"absent"},
{"lang":"Boloki","feat":"Poss","syn":"present","ani":"absent"},
{"lang":"Boloki","feat":"Q","syn":"present","ani":"absent"},
{"lang":"Boloki","feat":"PA","syn":"absent","ani":"absent"},
{"lang":"Boloki","feat":"DP","syn":"present","ani":"absent"},
{"lang":"Boloki","feat":"R","syn":"present","ani":"absent"},
{"lang":"Boloki","feat":"O","syn":"absent","ani":"absent"},
{"lang":"Boloki","feat":"RP","syn":"absent","ani":"absent"},
{"lang":"Lika","feat":"V","syn":"absent","ani":"present"},
{"lang":"Lika","feat":"PeP","syn":"present","ani":"present"},
{"lang":"Lika","feat":"AA","syn":"present","ani":"absent"},
{"lang":"Lika","feat":"PoP","syn":"absent","ani":"absent"},
{"lang":"Lika","feat":"D","syn":"present","ani":"absent"},
{"lang":"Lika","feat":"Wh","syn":"absent","ani":"absent"},
{"lang":"Lika","feat":"C","syn":"unknown","ani":"unknown"},
{"lang":"Lika","feat":"N","syn":"present","ani":"absent"},
{"lang":"Lika","feat":"Poss","syn":"present","ani":"absent"},
{"lang":"Lika","feat":"Q","syn":"present","ani":"absent"},
{"lang":"Lika","feat":"PA","syn":"unknown","ani":"unknown"},
{"lang":"Lika","feat":"DP","syn":"present","ani":"absent"},
{"lang":"Lika","feat":"R","syn":"present","ani":"absent"},
{"lang":"Lika","feat":"O","syn":"unknown","ani":"present"},
{"lang":"Lika","feat":"RP","syn":"absent","ani":"absent"},
{"lang":"Ngelima","feat":"V","syn":"absent","ani":"present"},
{"lang":"Ngelima","feat":"PeP","syn":"present","ani":"present"},
{"lang":"Ngelima","feat":"AA","syn":"present","ani":"present"},
{"lang":"Ngelima","feat":"PoP","syn":"present","ani":"present"},
{"lang":"Ngelima","feat":"D","syn":"present","ani":"present"},
{"lang":"Ngelima","feat":"Wh","syn":"present","ani":"present"},
{"lang":"Ngelima","feat":"C","syn":"unknown","ani":"unknown"},
{"lang":"Ngelima","feat":"N","syn":"present","ani":"present"},
{"lang":"Ngelima","feat":"Poss","syn":"present","ani":"present"},
{"lang":"Ngelima","feat":"Q","syn":"unknown","ani":"unknown"},
{"lang":"Ngelima","feat":"PA","syn":"unknown","ani":"unknown"},
{"lang":"Ngelima","feat":"DP","syn":"unknown","ani":"present"},
{"lang":"Ngelima","feat":"R","syn":"present","ani":"present"},
{"lang":"Ngelima","feat":"O","syn":"unknown","ani":"unknown"},
{"lang":"Ngelima","feat":"RP","syn":"unknown","ani":"unknown"},
{"lang":"Lingala (Bokamba)","feat":"V","syn":"absent","ani":"present"},
{"lang":"Lingala (Bokamba)","feat":"PeP","syn":"absent","ani":"present"},
{"lang":"Lingala (Bokamba)","feat":"AA","syn":"absent","ani":"present"},
{"lang":"Lingala (Bokamba)","feat":"PoP","syn":"absent","ani":"present"},
{"lang":"Lingala (Bokamba)","feat":"D","syn":"absent","ani":"absent"},
{"lang":"Lingala (Bokamba)","feat":"Wh","syn":"absent","ani":"present"},
{"lang":"Lingala (Bokamba)","feat":"C","syn":"absent","ani":"absent"},
{"lang":"Lingala (Bokamba)","feat":"N","syn":"absent","ani":"absent"},
{"lang":"Lingala (Bokamba)","feat":"Poss","syn":"absent","ani":"absent"},
{"lang":"Lingala (Bokamba)","feat":"Q","syn":"absent","ani":"absent"},
{"lang":"Lingala (Bokamba)","feat":"PA","syn":"absent","ani":"absent"},
{"lang":"Lingala (Bokamba)","feat":"DP","syn":"absent","ani":"absent"},
{"lang":"Lingala (Bokamba)","feat":"R","syn":"absent","ani":"absent"},
{"lang":"Lingala (Bokamba)","feat":"O","syn":"absent","ani":"absent"},
{"lang":"Lingala (Bokamba)","feat":"RP","syn":"absent","ani":"absent"},
{"lang":"Bera","feat":"V","syn":"absent","ani":"present"},
{"lang":"Bera","feat":"PeP","syn":"absent","ani":"present"},
{"lang":"Bera","feat":"AA","syn":"absent","ani":"present"},
{"lang":"Bera","feat":"PoP","syn":"absent","ani":"unknown"},
{"lang":"Bera","feat":"D","syn":"absent","ani":"present"},
{"lang":"Bera","feat":"Wh","syn":"absent","ani":"unknown"},
{"lang":"Bera","feat":"C","syn":"absent","ani":"present"},
{"lang":"Bera","feat":"N","syn":"absent","ani":"present"},
{"lang":"Bera","feat":"Poss","syn":"absent","ani":"present"},
{"lang":"Bera","feat":"Q","syn":"absent","ani":"present"},
{"lang":"Bera","feat":"PA","syn":"absent","ani":"present"},
{"lang":"Bera","feat":"DP","syn":"absent","ani":"present"},
{"lang":"Bera","feat":"R","syn":"absent","ani":"absent"},
{"lang":"Bera","feat":"O","syn":"absent","ani":"unknown"},
{"lang":"Bera","feat":"RP","syn":"absent","ani":"absent"},
{"lang":"Beeke","feat":"V","syn":"absent","ani":"present"},
{"lang":"Beeke","feat":"PeP","syn":"absent","ani":"unknown"},
{"lang":"Beeke","feat":"AA","syn":"absent","ani":"present"},
{"lang":"Beeke","feat":"PoP","syn":"absent","ani":"present"},
{"lang":"Beeke","feat":"D","syn":"absent","ani":"present"},
{"lang":"Beeke","feat":"Wh","syn":"absent","ani":"unknown"},
{"lang":"Beeke","feat":"C","syn":"absent","ani":"unknown"},
{"lang":"Beeke","feat":"N","syn":"absent","ani":"unknown"},
{"lang":"Beeke","feat":"Poss","syn":"absent","ani":"unknown"},
{"lang":"Beeke","feat":"Q","syn":"absent","ani":"unknown"},
{"lang":"Beeke","feat":"PA","syn":"absent","ani":"unknown"},
{"lang":"Beeke","feat":"DP","syn":"absent","ani":"unknown"},
{"lang":"Beeke","feat":"R","syn":"absent","ani":"unknown"},
{"lang":"Beeke","feat":"O","syn":"absent","ani":"unknown"},
{"lang":"Beeke","feat":"RP","syn":"absent","ani":"unknown"},
{"lang":"Nzadi","feat":"V","syn":"absent","ani":"absent"},
{"lang":"Nzadi","feat":"PeP","syn":"absent","ani":"present"},
{"lang":"Nzadi","feat":"AA","syn":"absent","ani":"absent"},
{"lang":"Nzadi","feat":"PoP","syn":"absent","ani":"absent"},
{"lang":"Nzadi","feat":"D","syn":"absent","ani":"present"},
{"lang":"Nzadi","feat":"Wh","syn":"absent","ani":"present"},
{"lang":"Nzadi","feat":"C","syn":"absent","ani":"absent"},
{"lang":"Nzadi","feat":"N","syn":"absent","ani":"absent"},
{"lang":"Nzadi","feat":"Poss","syn":"absent","ani":"absent"},
{"lang":"Nzadi","feat":"Q","syn":"absent","ani":"present"},
{"lang":"Nzadi","feat":"PA","syn":"absent","ani":"absent"},
{"lang":"Nzadi","feat":"DP","syn":"absent","ani":"present"},
{"lang":"Nzadi","feat":"R","syn":"absent","ani":"unknown"},
{"lang":"Nzadi","feat":"O","syn":"absent","ani":"unknown"},
{"lang":"Nzadi","feat":"RP","syn":"absent","ani":"present"},
{"lang":"Kako","feat":"V","syn":"absent","ani":"absent"},
{"lang":"Kako","feat":"PeP","syn":"absent","ani":"absent"},
{"lang":"Kako","feat":"AA","syn":"absent","ani":"present"},
{"lang":"Kako","feat":"PoP","syn":"absent","ani":"present"},
{"lang":"Kako","feat":"D","syn":"absent","ani":"present"},
{"lang":"Kako","feat":"Wh","syn":"absent","ani":"present"},
{"lang":"Kako","feat":"C","syn":"absent","ani":"absent"},
{"lang":"Kako","feat":"N","syn":"absent","ani":"present"},
{"lang":"Kako","feat":"Poss","syn":"absent","ani":"present"},
{"lang":"Kako","feat":"Q","syn":"absent","ani":"present"},
{"lang":"Kako","feat":"PA","syn":"absent","ani":"absent"},
{"lang":"Kako","feat":"DP","syn":"absent","ani":"unknown"},
{"lang":"Kako","feat":"R","syn":"absent","ani":"present"},
{"lang":"Kako","feat":"O","syn":"absent","ani":"present"},
{"lang":"Kako","feat":"RP","syn":"absent","ani":"unknown"},
{"lang":"Bila","feat":"V","syn":"absent","ani":"absent"},
{"lang":"Bila","feat":"PeP","syn":"absent","ani":"absent"},
{"lang":"Bila","feat":"AA","syn":"absent","ani":"present"},
{"lang":"Bila","feat":"PoP","syn":"unknown","ani":"present"},
{"lang":"Bila","feat":"D","syn":"absent","ani":"present"},
{"lang":"Bila","feat":"Wh","syn":"absent","ani":"unknown"},
{"lang":"Bila","feat":"C","syn":"absent","ani":"absent"},
{"lang":"Bila","feat":"N","syn":"absent","ani":"present"},
{"lang":"Bila","feat":"Poss","syn":"absent","ani":"present"},
{"lang":"Bila","feat":"Q","syn":"absent","ani":"unknown"},
{"lang":"Bila","feat":"PA","syn":"absent","ani":"absent"},
{"lang":"Bila","feat":"DP","syn":"absent","ani":"unknown"},
{"lang":"Bila","feat":"R","syn":"absent","ani":"absent"},
{"lang":"Bila","feat":"O","syn":"absent","ani":"absent"},
{"lang":"Bila","feat":"RP","syn":"absent","ani":"unknown"},
{"lang":"Amba (Uganda)","feat":"V","syn":"absent","ani":"present"},
{"lang":"Amba (Uganda)","feat":"PeP","syn":"absent","ani":"absent"},
{"lang":"Amba (Uganda)","feat":"AA","syn":"absent","ani":"absent"},
{"lang":"Amba (Uganda)","feat":"PoP","syn":"absent","ani":"absent"},
{"lang":"Amba (Uganda)","feat":"D","syn":"absent","ani":"absent"},
{"lang":"Amba (Uganda)","feat":"Wh","syn":"absent","ani":"unknown"},
{"lang":"Amba (Uganda)","feat":"C","syn":"absent","ani":"unknown"},
{"lang":"Amba (Uganda)","feat":"N","syn":"absent","ani":"unknown"},
{"lang":"Amba (Uganda)","feat":"Poss","syn":"absent","ani":"unknown"},
{"lang":"Amba (Uganda)","feat":"Q","syn":"absent","ani":"unknown"},
{"lang":"Amba (Uganda)","feat":"PA","syn":"absent","ani":"present"},
{"lang":"Amba (Uganda)","feat":"DP","syn":"absent","ani":"unknown"},
{"lang":"Amba (Uganda)","feat":"R","syn":"absent","ani":"unknown"},
{"lang":"Amba (Uganda)","feat":"O","syn":"absent","ani":"unknown"},
{"lang":"Amba (Uganda)","feat":"RP","syn":"absent","ani":"unknown"},
{"lang":"Pande","feat":"V","syn":"absent","ani":"present"},
{"lang":"Pande","feat":"PeP","syn":"absent","ani":"unknown"},
{"lang":"Pande","feat":"AA","syn":"absent","ani":"absent"},
{"lang":"Pande","feat":"PoP","syn":"absent","ani":"unknown"},
{"lang":"Pande","feat":"D","syn":"absent","ani":"absent"},
{"lang":"Pande","feat":"Wh","syn":"absent","ani":"absent"},
{"lang":"Pande","feat":"C","syn":"absent","ani":"absent"},
{"lang":"Pande","feat":"N","syn":"absent","ani":"absent"},
{"lang":"Pande","feat":"Poss","syn":"absent","ani":"absent"},
{"lang":"Pande","feat":"Q","syn":"absent","ani":"absent"},
{"lang":"Pande","feat":"PA","syn":"absent","ani":"unknown"},
{"lang":"Pande","feat":"DP","syn":"absent","ani":"unknown"},
{"lang":"Pande","feat":"R","syn":"absent","ani":"unknown"},
{"lang":"Pande","feat":"O","syn":"absent","ani":"unknown"},
{"lang":"Pande","feat":"RP","syn":"absent","ani":"unknown"},
{"lang":"Mbati","feat":"V","syn":"absent","ani":"present"},
{"lang":"Mbati","feat":"PeP","syn":"absent","ani":"unknown"},
{"lang":"Mbati","feat":"AA","syn":"absent","ani":"absent"},
{"lang":"Mbati","feat":"PoP","syn":"absent","ani":"unknown"},
{"lang":"Mbati","feat":"D","syn":"absent","ani":"absent"},
{"lang":"Mbati","feat":"Wh","syn":"absent","ani":"absent"},
{"lang":"Mbati","feat":"C","syn":"absent","ani":"unknown"},
{"lang":"Mbati","feat":"N","syn":"absent","ani":"absent"},
{"lang":"Mbati","feat":"Poss","syn":"absent","ani":"absent"},
{"lang":"Mbati","feat":"Q","syn":"absent","ani":"absent"},
{"lang":"Mbati","feat":"PA","syn":"absent","ani":"unknown"},
{"lang":"Mbati","feat":"DP","syn":"absent","ani":"unknown"},
{"lang":"Mbati","feat":"R","syn":"absent","ani":"unknown"},
{"lang":"Mbati","feat":"O","syn":"absent","ani":"unknown"},
{"lang":"Mbati","feat":"RP","syn":"absent","ani":"unknown"},
{"lang":"Kari (Democratic Republic of Congo)","feat":"V","syn":"unknown","ani":"absent"},
{"lang":"Kari (Democratic Republic of Congo)","feat":"PeP","syn":"absent","ani":"absent"},
{"lang":"Kari (Democratic Republic of Congo)","feat":"AA","syn":"absent","ani":"present"},
{"lang":"Kari (Democratic Republic of Congo)","feat":"PoP","syn":"absent","ani":"absent"},
{"lang":"Kari (Democratic Republic of Congo)","feat":"D","syn":"absent","ani":"absent"},
{"lang":"Kari (Democratic Republic of Congo)","feat":"Wh","syn":"unknown","ani":"absent"},
{"lang":"Kari (Democratic Republic of Congo)","feat":"C","syn":"absent","ani":"absent"},
{"lang":"Kari (Democratic Republic of Congo)","feat":"N","syn":"unknown","ani":"absent"},
{"lang":"Kari (Democratic Republic of Congo)","feat":"Poss","syn":"absent","ani":"absent"},
{"lang":"Kari (Democratic Republic of Congo)","feat":"Q","syn":"unknown","ani":"absent"},
{"lang":"Kari (Democratic Republic of Congo)","feat":"PA","syn":"absent","ani":"absent"},
{"lang":"Kari (Democratic Republic of Congo)","feat":"DP","syn":"absent","ani":"absent"},
{"lang":"Kari (Democratic Republic of Congo)","feat":"R","syn":"unknown","ani":"absent"},
{"lang":"Kari (Democratic Republic of Congo)","feat":"O","syn":"unknown","ani":"absent"},
{"lang":"Kari (Democratic Republic of Congo)","feat":"RP","syn":"absent","ani":"absent"},
{"lang":"Bodo (Central African Republic)","feat":"V","syn":"absent","ani":"absent"},
{"lang":"Bodo (Central African Republic)","feat":"PeP","syn":"absent","ani":"present"},
{"lang":"Bodo (Central African Republic)","feat":"AA","syn":"unknown","ani":"unknown"},
{"lang":"Bodo (Central African Republic)","feat":"PoP","syn":"absent","ani":"absent"},
{"lang":"Bodo (Central African Republic)","feat":"D","syn":"unknown","ani":"unknown"},
{"lang":"Bodo (Central African Republic)","feat":"Wh","syn":"unknown","ani":"unknown"},
{"lang":"Bodo (Central African Republic)","feat":"C","syn":"unknown","ani":"unknown"},
{"lang":"Bodo (Central African Republic)","feat":"N","syn":"unknown","ani":"unknown"},
{"lang":"Bodo (Central African Republic)","feat":"Poss","syn":"absent","ani":"unknown"},
{"lang":"Bodo (Central African Republic)","feat":"Q","syn":"unknown","ani":"unknown"},
{"lang":"Bodo (Central African Republic)","feat":"PA","syn":"unknown","ani":"unknown"},
{"lang":"Bodo (Central African Republic)","feat":"DP","syn":"unknown","ani":"unknown"},
{"lang":"Bodo (Central African Republic)","feat":"R","syn":"unknown","ani":"absent"},
{"lang":"Bodo (Central African Republic)","feat":"O","syn":"unknown","ani":"unknown"},
{"lang":"Bodo (Central African Republic)","feat":"RP","syn":"unknown","ani":"unknown"}
]},
"encoding":{
"x":{"field":"feat","type":"nominal","sort":["V","PeP","AA","PoP","D","Wh","C","N","Poss","Q","PA","DP","R","O","RP"],"scale":{"paddingInner":0,"paddingOuter":0},"axis":{"labelAngle":0,"orient":"bottom"}},
"y":{"field":"lang","type":"nominal","sort":["Kimbundu","Suundi","Ukhwejo","Vili","Bwa","Pagibete","Mpiemo","Yaka (Democratic Republic of Congo)","Songomeno","Sakata","Moi (Congo)","Ligenza","Libinza","Lengola","Laari","Kele (Democratic Republic of Congo)","Kaamba","Bwela","Bongili","Bomboma","Bolia","Suku","Zamba","Ngombe (Democratic Republic of Congo)","Ndumu","San Salvador Kongo","Bangi","Mongo (Atlantic-Congo)","Tuki","Tembo (Motembo)","Sira","Sengele","Nyali","Ntomba","Ngando (Democratic Republic of Congo)","Lefa","Ding","Boloki","Lika","Ngelima","Lingala (Bokamba)","Bera","Beeke","Nzadi","Kako","Bila","Amba (Uganda)","Pande","Mbati","Kari (Democratic Republic of Congo)","Bodo (Central African Republic)"],"scale":{"paddingInner":0,"paddingOuter":0},"axis":{"orient":"left"}}
},
"layer":[
{"mark":{"type":"point","filled":true,"size":510,"opacity":1,"strokeWidth":0},
"encoding":{
"color":{"field":"ani","type":"nominal","scale":{"domain":["unknown","absent","present"],"range":["#f0f0f0","#ffff00","#222222"]},"legend":{"title":"value","orient":"none","legendX":398,"legendY":456,"symbolType":"circle","symbolSize":1024,"symbolStrokeWidth":0,"rowPadding":18.5,"labelOffset":19,"titlePadding":18}},
"shape":{"datum":"animacy-based","type":"nominal","scale":{"domain":["syntactic","animacy-based"],"range":["M1,-1L1,1L-1,1Z","M-1,-1L1,-1L-1,1Z"]},"legend":{"title":"type of agreement","orient":"none","legendX":382,"legendY":657,"symbolSize":400,"symbolFillColor":"#000000","symbolStrokeWidth":0,"rowPadding":4,"symbolOffset":17,"labelOffset":20,"titlePadding":23}}}},
{"mark":{"type":"point","filled":true,"size":510,"opacity":1,"strokeWidth":0},
"encoding":{
"color":{"field":"syn","type":"nominal","scale":{"domain":["unknown","absent","present"],"range":["#f0f0f0","#ffff00","#222222"]},"legend":{"title":"value","orient":"none","legendX":398,"legendY":456,"symbolType":"circle","symbolSize":1024,"symbolStrokeWidth":0,"rowPadding":18.5,"labelOffset":19,"titlePadding":18}},
"shape":{"datum":"syntactic","type":"nominal","scale":{"domain":["syntactic","animacy-based"],"range":["M1,-1L1,1L-1,1Z","M-1,-1L1,-1L-1,1Z"]},"legend":{"title":"type of agreement","orient":"none","legendX":382,"legendY":657,"symbolSize":400,"symbolFillColor":"#000000","symbolStrokeWidth":0,"rowPadding":4,"symbolOffset":17,"labelOffset":20,"titlePadding":23}}}},
{"mark":{"type":"tick","orient":"vertical","size":4,"thickness":1,"color":"#333333","yOffset":-12.1,"opacity":1},
"encoding":{
"x":{"field":"feat","type":"nominal","sort":["V","PeP","AA","PoP","D","Wh","C","N","Poss","Q","PA","DP","R","O","RP"],"axis":{"orient":"top","labels":false,"ticks":true,"domain":false}},
"y":{"field":"lang","type":"nominal","sort":["Kimbundu","Suundi","Ukhwejo","Vili","Bwa","Pagibete","Mpiemo","Yaka (Democratic Republic of Congo)","Songomeno","Sakata","Moi (Congo)","Ligenza","Libinza","Lengola","Laari","Kele (Democratic Republic of Congo)","Kaamba","Bwela","Bongili","Bomboma","Bolia","Suku","Zamba","Ngombe (Democratic Republic of Congo)","Ndumu","San Salvador Kongo","Bangi","Mongo (Atlantic-Congo)","Tuki","Tembo (Motembo)","Sira","Sengele","Nyali","Ntomba","Ngando (Democratic Republic of Congo)","Lefa","Ding","Boloki","Lika","Ngelima","Lingala (Bokamba)","Bera","Beeke","Nzadi","Kako","Bila","Amba (Uganda)","Pande","Mbati","Kari (Democratic Republic of Congo)","Bodo (Central African Republic)"],"axis":{"orient":"right","labels":false,"ticks":true,"domain":false}}}}
],
"resolve":{"axis":{"x":"independent","y":"independent"}}
}
